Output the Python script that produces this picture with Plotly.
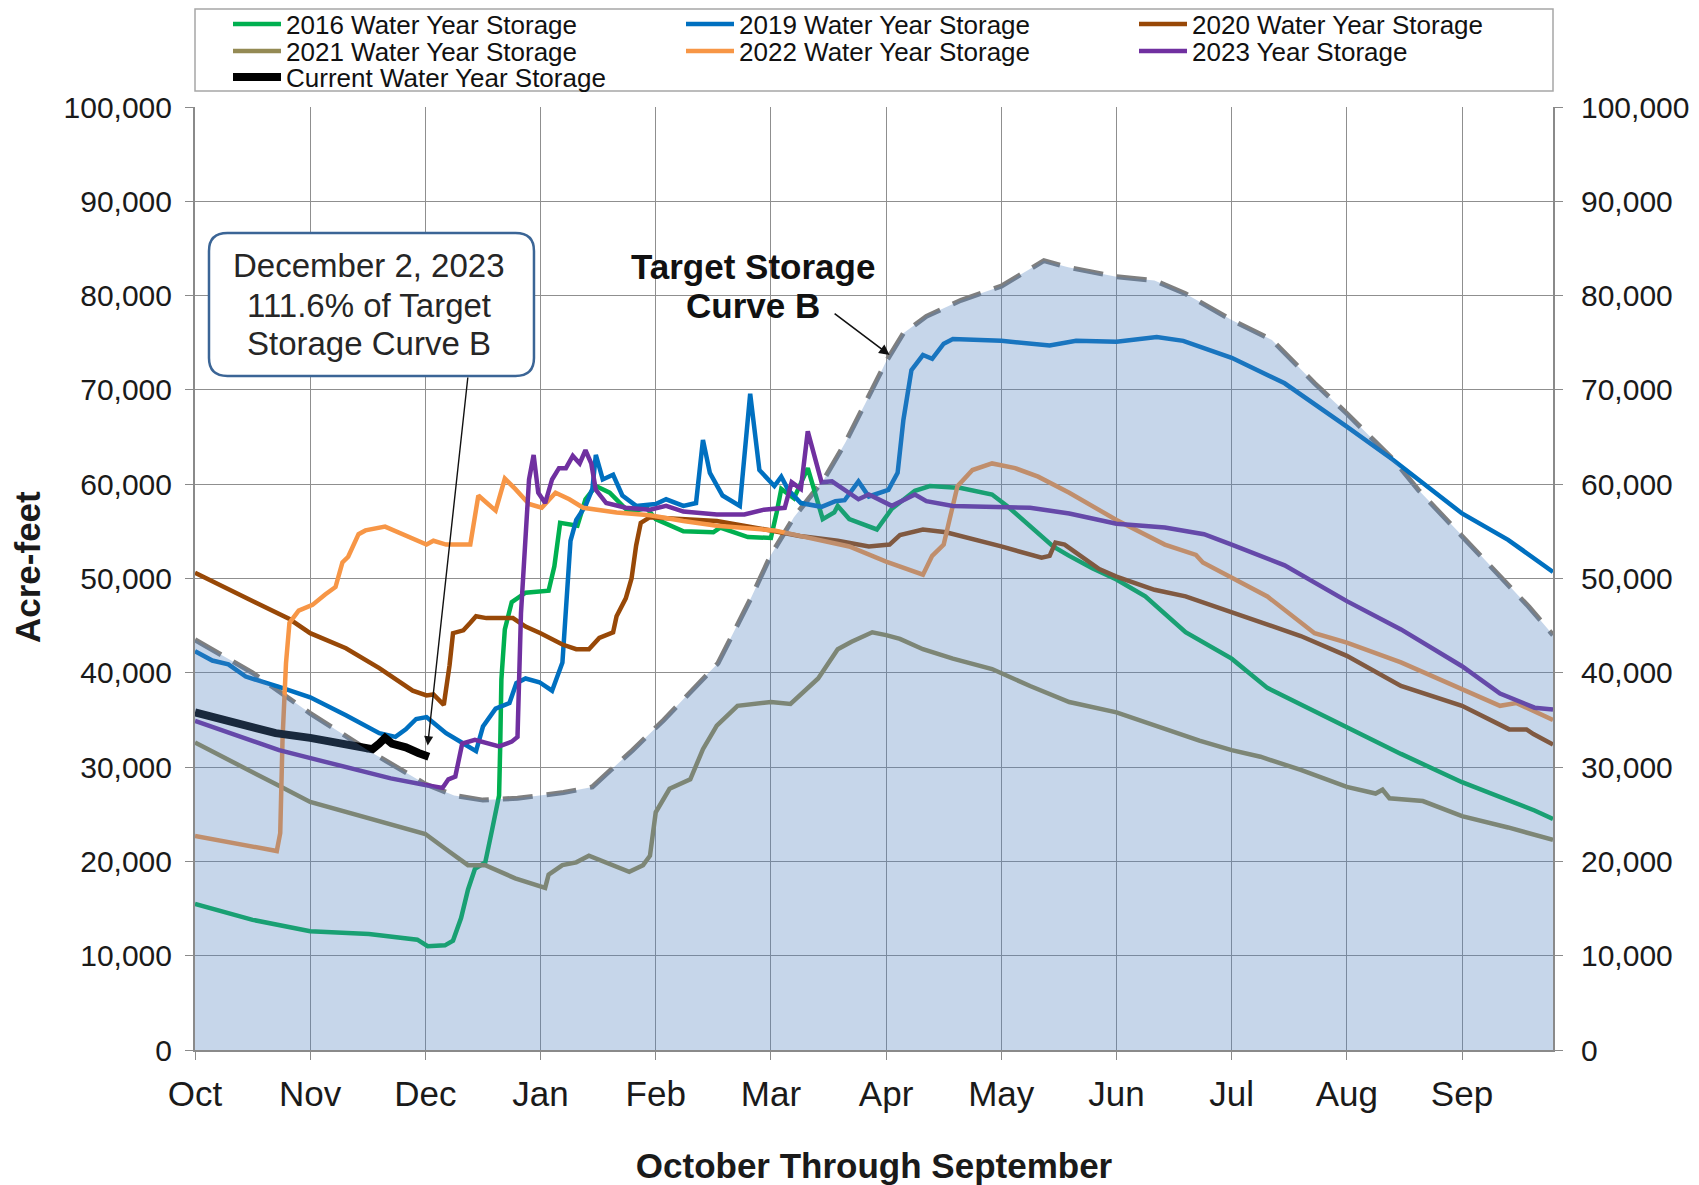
import plotly.graph_objects as go

# ---------------- DATA (x = months since Oct 1, y = thousand acre-feet) ----------------
month_labels = ["Oct", "Nov", "Dec", "Jan", "Feb", "Mar", "Apr", "May", "Jun", "Jul", "Aug", "Sep"]
month_ticks = list(range(12))

target_x = [0, 0.5, 1.0, 1.5, 2.0, 2.25, 2.5, 2.8, 3.2, 3.45, 3.61, 3.8, 4.07, 4.3, 4.54, 4.83, 5.0, 5.2, 5.46, 5.65,
            5.9, 6.0, 6.15, 6.35, 6.65, 7.0, 7.37, 7.58, 8.0, 8.33, 8.6, 9.0, 9.35, 9.72, 10.0, 10.42, 10.62, 11.06, 11.58, 11.79]
target_y = [43.5, 40.0, 35.7, 31.8, 28.2, 27.0, 26.5, 26.7, 27.3, 27.9, 29.7, 31.8, 35.0, 38.0, 41.0, 48.0, 52.5, 56.5, 60.5, 64.5,
            70.5, 73.0, 76.0, 77.8, 79.5, 81.0, 83.7, 83.0, 82.0, 81.6, 80.2, 77.4, 75.3, 70.7, 67.5, 62.4, 59.4, 53.8, 47.0, 44.0]

wy2016_x = [0, 0.5, 1.0, 1.51, 1.93, 2.02, 2.17, 2.24, 2.31, 2.37, 2.43, 2.52, 2.58, 2.64, 2.65, 2.66, 2.69, 2.75, 2.87, 3.07,
            3.12, 3.17, 3.32, 3.39, 3.48, 3.6, 3.77, 3.92, 4.0, 4.24, 4.5, 4.56, 4.8, 5.0, 5.05, 5.09, 5.2, 5.32, 5.45, 5.55,
            5.58, 5.68, 5.92, 6.05, 6.25, 6.38, 6.65, 6.92, 7.05, 7.25, 7.45, 7.59, 7.79, 8.0, 8.25, 8.6, 9.0, 9.31, 10.0, 10.47,
            11.0, 11.63, 11.79]
wy2016_y = [15.5, 13.8, 12.6, 12.3, 11.7, 11.0, 11.1, 11.6, 14.0, 17.0, 19.2, 19.9, 23.4, 27.0, 32.3, 39.3, 44.6, 47.5, 48.5, 48.7,
            51.3, 55.9, 55.6, 58.4, 59.8, 59.1, 57.0, 57.5, 56.3, 55.0, 54.9, 55.4, 54.4, 54.3, 57.0, 59.5, 58.5, 61.7, 56.3, 57.0,
            57.7, 56.3, 55.2, 57.4, 59.3, 59.8, 59.6, 58.9, 57.7, 55.6, 53.4, 52.4, 51.1, 49.9, 48.1, 44.3, 41.5, 38.4, 34.2, 31.4,
            28.4, 25.4, 24.5]

wy2019_x = [0, 0.15, 0.29, 0.44, 0.73, 1.0, 1.31, 1.6, 1.74, 1.83, 1.92, 2.01, 2.07, 2.18, 2.33, 2.44, 2.5, 2.61, 2.73, 2.79,
            2.87, 2.99, 3.1, 3.19, 3.26, 3.31, 3.39, 3.45, 3.48, 3.54, 3.63, 3.71, 3.83, 4.0, 4.09, 4.24, 4.35, 4.41, 4.47, 4.58,
            4.73, 4.82, 4.9, 5.03, 5.09, 5.15, 5.26, 5.44, 5.56, 5.64, 5.76, 5.85, 6.02, 6.1, 6.15, 6.22, 6.32, 6.4, 6.5, 6.58,
            7.0, 7.42, 7.65, 8.0, 8.35, 8.58, 9.0, 9.46, 10.0, 10.4, 11.0, 11.4, 11.79]
wy2019_y = [42.3, 41.3, 40.9, 39.6, 38.5, 37.4, 35.5, 33.6, 33.2, 34.0, 35.1, 35.3, 34.7, 33.6, 32.5, 31.7, 34.3, 36.2, 36.8, 38.9,
            39.4, 39.0, 38.1, 41.1, 54.0, 56.2, 57.7, 59.5, 63.1, 60.5, 61.0, 58.8, 57.7, 57.9, 58.4, 57.7, 58.0, 64.7, 61.2, 58.8,
            57.7, 69.6, 61.5, 59.8, 60.8, 59.4, 58.0, 57.6, 58.2, 58.3, 60.3, 58.7, 59.4, 61.2, 66.8, 72.1, 73.7, 73.3, 74.9, 75.4,
            75.2, 74.7, 75.2, 75.1, 75.6, 75.2, 73.4, 70.7, 66.1, 62.6, 56.9, 54.1, 50.7]

wy2020_x = [0, 0.44, 0.82, 1.0, 1.31, 1.6, 1.89, 2.01, 2.07, 2.16, 2.21, 2.24, 2.33, 2.39, 2.44, 2.53, 2.76, 2.87, 3.0, 3.19,
            3.31, 3.42, 3.51, 3.63, 3.66, 3.74, 3.79, 3.83, 3.87, 3.95, 4.24, 4.53, 5.0, 5.25, 5.58, 5.85, 6.03, 6.12, 6.32, 6.52,
            7.0, 7.35, 7.42, 7.47, 7.55, 7.85, 8.0, 8.33, 8.6, 9.0, 9.6, 10.0, 10.47, 11.0, 11.41, 11.56, 11.62, 11.79]
wy2020_y = [50.6, 47.9, 45.7, 44.2, 42.6, 40.5, 38.1, 37.6, 37.7, 36.6, 40.8, 44.2, 44.5, 45.3, 46.0, 45.8, 45.8, 44.9, 44.2, 43.0,
            42.5, 42.5, 43.7, 44.3, 46.0, 47.9, 50.0, 53.5, 55.9, 56.5, 56.3, 56.1, 55.1, 54.5, 54.0, 53.4, 53.6, 54.6, 55.2, 54.9,
            53.4, 52.2, 52.4, 53.8, 53.6, 51.0, 50.2, 48.8, 48.1, 46.4, 43.9, 41.8, 38.6, 36.5, 34.0, 34.0, 33.5, 32.4]

wy2021_x = [0, 0.44, 0.7, 1.0, 1.5, 2.0, 2.2, 2.37, 2.52, 2.64, 2.78, 3.04, 3.07, 3.19, 3.31, 3.42, 3.57, 3.77, 3.89, 3.95,
            4.0, 4.12, 4.3, 4.41, 4.53, 4.71, 5.0, 5.17, 5.41, 5.58, 5.7, 5.88, 6.0, 6.12, 6.32, 6.58, 6.92, 7.25, 7.59, 8.0,
            8.72, 9.0, 9.25, 9.6, 10.0, 10.25, 10.31, 10.37, 10.66, 11.0, 11.4, 11.79]
wy2021_y = [32.6, 29.9, 28.2, 26.3, 24.6, 22.9, 21.1, 19.6, 19.6, 18.9, 18.2, 17.2, 18.6, 19.6, 19.9, 20.6, 19.9, 18.9, 19.6, 20.6,
            25.2, 27.7, 28.7, 31.9, 34.4, 36.5, 36.9, 36.7, 39.4, 42.5, 43.3, 44.3, 44.0, 43.6, 42.5, 41.5, 40.4, 38.6, 36.9, 35.8,
            32.8, 31.8, 31.1, 29.7, 27.9, 27.2, 27.6, 26.7, 26.4, 24.8, 23.6, 22.3]

wy2022_x = [0, 0.3, 0.6, 0.71, 0.74, 0.76, 0.79, 0.82, 0.9, 1.02, 1.13, 1.22, 1.28, 1.33, 1.42, 1.48, 1.65, 1.89, 2.01, 2.07,
            2.18, 2.39, 2.46, 2.61, 2.69, 2.78, 2.9, 3.01, 3.13, 3.25, 3.37, 3.66, 3.95, 4.24, 4.53, 5.03, 5.38, 5.68, 6.0, 6.32,
            6.4, 6.5, 6.55, 6.62, 6.75, 6.92, 7.12, 7.32, 7.59, 8.0, 8.42, 8.69, 8.75, 9.0, 9.31, 9.72, 10.0, 10.47, 11.0, 11.33,
            11.47, 11.79]
wy2022_y = [22.7, 22.0, 21.3, 21.1, 23.0, 33.0, 41.0, 45.3, 46.6, 47.2, 48.3, 49.1, 51.7, 52.3, 54.7, 55.1, 55.5, 54.3, 53.6, 54.0,
            53.6, 53.6, 58.8, 57.2, 60.6, 59.5, 57.9, 57.5, 59.1, 58.4, 57.5, 57.0, 56.7, 56.1, 55.6, 55.1, 54.2, 53.4, 51.8, 50.4,
            52.4, 53.6, 56.2, 59.8, 61.5, 62.2, 61.7, 60.8, 59.1, 56.2, 53.6, 52.5, 51.7, 50.1, 48.1, 44.2, 43.2, 41.1, 38.2, 36.5,
            36.8, 35.0]

wy2023_x = [0, 0.44, 0.73, 1.02, 1.31, 1.6, 1.7, 2.0, 2.15, 2.2, 2.26, 2.32, 2.43, 2.64, 2.75, 2.8, 2.83, 2.9, 2.94, 2.98,
            3.04, 3.1, 3.16, 3.22, 3.28, 3.34, 3.39, 3.44, 3.48, 3.57, 3.74, 3.95, 4.09, 4.24, 4.53, 4.77, 4.94, 5.12, 5.18, 5.26,
            5.32, 5.38, 5.44, 5.53, 5.68, 5.76, 5.85, 6.05, 6.25, 6.35, 6.58, 7.0, 7.25, 7.59, 8.0, 8.42, 8.76, 9.0, 9.46, 10.0,
            10.47, 11.0, 11.33, 11.63, 11.79]
wy2023_y = [34.9, 33.0, 31.8, 30.9, 30.0, 29.0, 28.8, 28.1, 27.8, 28.7, 29.0, 32.5, 32.9, 32.2, 32.7, 33.2, 46.3, 60.5, 63.1, 59.1,
            58.0, 60.5, 61.7, 61.7, 63.0, 62.2, 63.6, 62.2, 59.4, 58.0, 57.5, 57.3, 57.7, 57.1, 56.8, 56.8, 57.3, 57.5, 60.2, 59.5,
            65.6, 62.9, 60.2, 60.3, 59.1, 58.4, 58.9, 57.7, 58.9, 58.2, 57.7, 57.5, 57.5, 56.9, 55.8, 55.4, 54.7, 53.6, 51.4, 47.6,
            44.6, 40.7, 37.8, 36.3, 36.1]

current_x = [0, 0.29, 0.7, 1.0, 1.31, 1.54, 1.6, 1.65, 1.71, 1.83, 1.94, 2.03]
current_y = [35.8, 34.9, 33.6, 33.1, 32.5, 31.9, 32.5, 33.1, 32.5, 32.1, 31.5, 31.1]

series_names = ["2016 Water Year Storage", "2019 Water Year Storage", "2020 Water Year Storage",
                "2021 Water Year Storage", "2022 Water Year Storage", "2023 Year Storage",
                "Current Water Year Storage"]
series_colors = ["#00B050", "#0070C0", "#984807", "#948A54", "#F79646", "#7030A0", "#000000"]

callout_lines = ["December 2, 2023", "111.6% of Target", "Storage Curve B"]
target_label_lines = ["Target Storage", "Curve B"]

# ---------------- FIGURE ----------------
FONT = "Liberation Sans, Arial, Helvetica, sans-serif"
KAF = 1000.0

def af(vals):
    return [v * KAF for v in vals]

fig = go.Figure()

# target curve outline (drawn under the translucent fill)
fig.add_trace(go.Scatter(x=target_x, y=af(target_y), mode="lines",
                         line=dict(color="#7F7F7F", width=5, dash="30px,14px"),
                         showlegend=False, hoverinfo="skip"))

series = [(wy2016_x, wy2016_y), (wy2019_x, wy2019_y), (wy2020_x, wy2020_y), (wy2021_x, wy2021_y),
          (wy2022_x, wy2022_y), (wy2023_x, wy2023_y), (current_x, current_y)]
legend_rows = ["legend", "legend", "legend", "legend2", "legend2", "legend2", "legend3"]
legend_w = [390, 390, 300, 390, 390, 300, 390]
for (xs, ys), name, color, lg, lw in zip(series, series_names, series_colors, legend_rows, legend_w):
    width = 8 if name.startswith("Current") else 4.5
    fig.add_trace(go.Scatter(x=xs, y=af(ys), mode="lines", name=name, legendwidth=lw,
                             line=dict(color=color, width=width), legend=lg))

# translucent target-storage area on top (overlaying axis -> drawn above the lines)
fig.add_trace(go.Scatter(x=target_x, y=af(target_y), mode="lines", fill="tozeroy",
                         fillcolor="rgba(79,129,189,0.32)", line=dict(width=0),
                         yaxis="y2", showlegend=False, hoverinfo="skip"))

# page is offset 8px by the body margin; plot area in page px: x 195..1553, y 107..1050
OFF = 8
W, H = 1699 - OFF, 1185 - OFF
PL, PR, PT, PB = 195, 1553, 107, 1050
ML, MT = PL - OFF, PT - OFF
MR, MB = W - (PR - OFF), H - (PB - OFF)

def py(pix):  # page pixel row -> paper y
    return (PB - pix) / (PB - PT)

def px(pix):  # page pixel col -> paper x
    return (pix - PL) / (PR - PL)

tickfont_y = dict(family=FONT, size=30, color="#1a1a1a")
fig.update_layout(
    width=W, height=H,
    margin=dict(l=ML, r=MR, t=MT, b=MB, autoexpand=False),
    paper_bgcolor="white", plot_bgcolor="white",
    font=dict(family=FONT, color="#1a1a1a"),
    xaxis=dict(range=[0, 11.79], tickmode="array", tickvals=month_ticks, ticktext=month_labels,
               showgrid=True, gridcolor="#8f8f8f", gridwidth=1, zeroline=False,
               showline=True, linecolor="#8a8a8a", linewidth=2,
               ticks="outside", ticklen=8, tickcolor="#8a8a8a", ticklabelstandoff=4,
               tickfont=dict(family=FONT, size=35, color="#1a1a1a"),
               title=dict(text="October Through September", standoff=42,
                          font=dict(family=FONT, size=35, color="#1a1a1a", weight="bold"))),
    yaxis=dict(range=[0, 100000], dtick=10000, tickformat=",", showgrid=True, gridcolor="#8f8f8f",
               gridwidth=1, zeroline=False, showline=True, linecolor="#8a8a8a", linewidth=2,
               ticks="outside", ticklen=8, tickcolor="#8a8a8a", ticklabelstandoff=7,
               tickfont=tickfont_y),
    yaxis2=dict(range=[0, 100000], dtick=10000, tickformat=",", overlaying="y", side="right",
                showgrid=False, zeroline=False, showline=True, linecolor="#8a8a8a", linewidth=2,
                ticks="outside", ticklen=8, tickcolor="#8a8a8a", ticklabelstandoff=12,
                tickfont=tickfont_y),
    showlegend=True,
)

# y-axis title
fig.add_annotation(x=px(27), y=py(567), xref="paper", yref="paper", text="<b>Acre-feet</b>",
                   textangle=-90, showarrow=False, xanchor="center", yanchor="middle",
                   font=dict(family=FONT, size=35, color="#1a1a1a"))

legend_common = dict(orientation="h", xanchor="left", yanchor="middle", bgcolor="rgba(0,0,0,0)",
                     borderwidth=0, font=dict(family=FONT, size=26, color="#111111"),
                     entrywidthmode="pixels", itemwidth=48, traceorder="normal")
fig.update_layout(
    legend=dict(legend_common, x=px(228), y=py(24)),
    legend2=dict(legend_common, x=px(228), y=py(51)),
    legend3=dict(legend_common, x=px(228), y=py(77)),
)

# legend frame
fig.add_shape(type="rect", xref="paper", yref="paper", x0=0, x1=1, y0=py(91), y1=py(9),
              line=dict(color="#a6a6a6", width=1.5), fillcolor="rgba(0,0,0,0)", layer="above")

# rounded callout box (data coordinates)
bx0, bx1, by0, by1 = 0.1215, 2.943, 71470, 86640
rx, ry = 0.16, 1900
path = (f"M {bx0+rx},{by1} L {bx1-rx},{by1} Q {bx1},{by1} {bx1},{by1-ry} L {bx1},{by0+ry} "
        f"Q {bx1},{by0} {bx1-rx},{by0} L {bx0+rx},{by0} Q {bx0},{by0} {bx0},{by0+ry} "
        f"L {bx0},{by1-ry} Q {bx0},{by1} {bx0+rx},{by1} Z")
fig.add_shape(type="path", path=path, xref="x", yref="y", fillcolor="white",
              line=dict(color="#3B6596", width=2.5), layer="above")

for line, ypix in zip(callout_lines, [265, 305, 343]):
    fig.add_annotation(x=px(369), y=py(ypix), xref="paper", yref="paper", text=line,
                       showarrow=False, xanchor="center", yanchor="middle",
                       font=dict(family=FONT, size=33, color="#262626"))
fig.add_annotation(x=2.02, y=32300, xref="x", yref="y", ax=2.37, ay=by0, axref="x", ayref="y",
                   text="", showarrow=True, arrowhead=2, arrowsize=1.3, arrowwidth=1.4, arrowcolor="#111")

for line, ypix in zip(target_label_lines, [266, 305]):
    fig.add_annotation(x=px(753), y=py(ypix), xref="paper", yref="paper", text=f"<b>{line}</b>",
                       showarrow=False, xanchor="center", yanchor="middle",
                       font=dict(family=FONT, size=35, color="#111"))
fig.add_annotation(x=6.03, y=73700, xref="x", yref="y", ax=5.54, ay=78200, axref="x", ayref="y",
                   text="", showarrow=True, arrowhead=2, arrowsize=1.3, arrowwidth=1.6, arrowcolor="#111")

fig.write_html("out.html")
